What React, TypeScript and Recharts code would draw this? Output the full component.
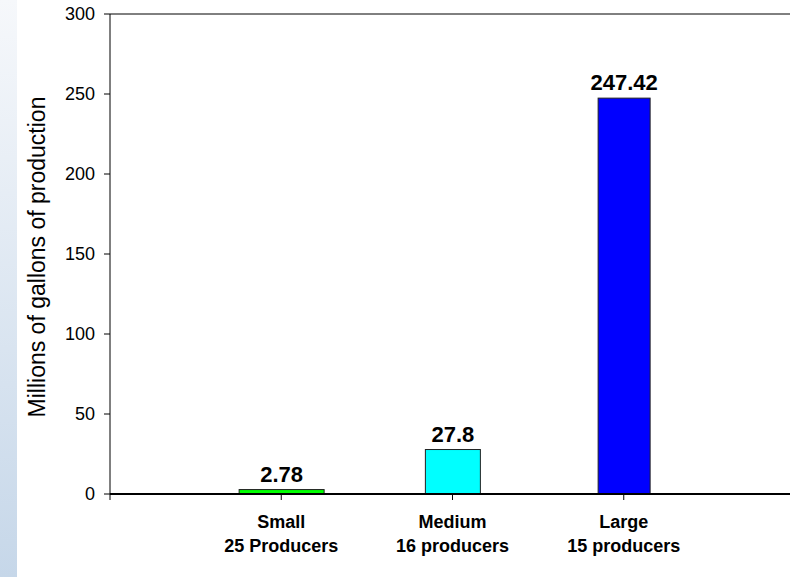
import React from 'react';
import {
  BarChart,
  Bar,
  XAxis,
  YAxis,
  LabelList,
  ReferenceLine,
  Cell,
} from 'recharts';

const sizeLabels = ['Small', 'Medium', 'Large'];
const producerLabels = ['25 Producers', '16 producers', '15 producers'];
const production = [2.78, 27.8, 247.42];
const yTicks = [0, 50, 100, 150, 200, 250, 300];

const barColors = ['#00ff00', '#00ffff', '#0000ff'];
const barWidths = [85, 55, 52];

const chartData = sizeLabels.map((size, i) => ({
  pos: i + 1,
  size,
  producers: producerLabels[i],
  value: production[i],
}));

const font = 'Arial, "Liberation Sans", Helvetica, sans-serif';

function CategoryTick(props: any) {
  const { x, y, payload } = props;
  const i = payload.value - 1;
  if (i < 0 || i >= sizeLabels.length) return null;
  return (
    <text x={x} y={y} textAnchor="middle" fontFamily={font} fontSize={18} fontWeight="bold" fill="#000">
      <tspan x={x} dy={26}>{sizeLabels[i]}</tspan>
      <tspan x={x} dy={24}>{producerLabels[i]}</tspan>
    </text>
  );
}

function VaryingBar(props: any) {
  const { x, y, width, height, index, fill } = props;
  const w = barWidths[index];
  const cx = x + width / 2;
  return <rect x={cx - w / 2} y={y} width={w} height={height} fill={fill} stroke="#222" strokeWidth={1} />;
}

function AxisTitle(props: any) {
  const { viewBox } = props;
  const cx = viewBox.x + 37;
  const cy = viewBox.y + viewBox.height / 2 + 3;
  return (
    <text
      x={cx}
      y={cy}
      transform={`rotate(-90, ${cx}, ${cy})`}
      textAnchor="middle"
      dominantBaseline="central"
      fontFamily={font}
      fontSize={23}
      fill="#000"
    >
      Millions of gallons of production
    </text>
  );
}

export default function App() {
  return (
    <div style={{ position: 'absolute', left: 0, top: 0, width: 790, height: 577, overflow: 'hidden', background: '#fff' }}>
      <div
        style={{
          position: 'absolute',
          left: 0,
          top: 0,
          width: 17,
          height: 577,
          background: 'linear-gradient(to bottom, #f6f8fb, #c6d7e9)',
        }}
      />
      <div style={{ position: 'absolute', left: 0, top: 0 }}>
        <BarChart width={795} height={577} data={chartData} margin={{ top: 14, right: 0, bottom: 23, left: 0 }}>
          <XAxis
            type="number"
            dataKey="pos"
            domain={[0, 4]}
            ticks={[0, 1, 2, 3]}
            height={60}
            tick={<CategoryTick />}
            tickSize={6}
            axisLine={{ stroke: '#000', strokeWidth: 2 }}
            tickLine={{ stroke: '#000' }}
          />
          <YAxis
            type="number"
            domain={[0, 300]}
            ticks={yTicks}
            width={110}
            tickSize={6}
            tickMargin={9}
            axisLine={{ stroke: '#000' }}
            tickLine={{ stroke: '#000' }}
            tick={{ fontFamily: font, fontSize: 18, fill: '#000' }}
            label={<AxisTitle />}
          />
          <ReferenceLine y={300} stroke="#000" strokeWidth={1} />
          <Bar dataKey="value" barSize={60} shape={<VaryingBar />} isAnimationActive={false}>
            {chartData.map((d, i) => (
              <Cell key={d.size} fill={barColors[i]} />
            ))}
            <LabelList
              dataKey="value"
              position="top"
              offset={8}
              fontFamily={font}
              fontSize={22}
              fontWeight="bold"
              fill="#000"
            />
          </Bar>
        </BarChart>
      </div>
    </div>
  );
}
